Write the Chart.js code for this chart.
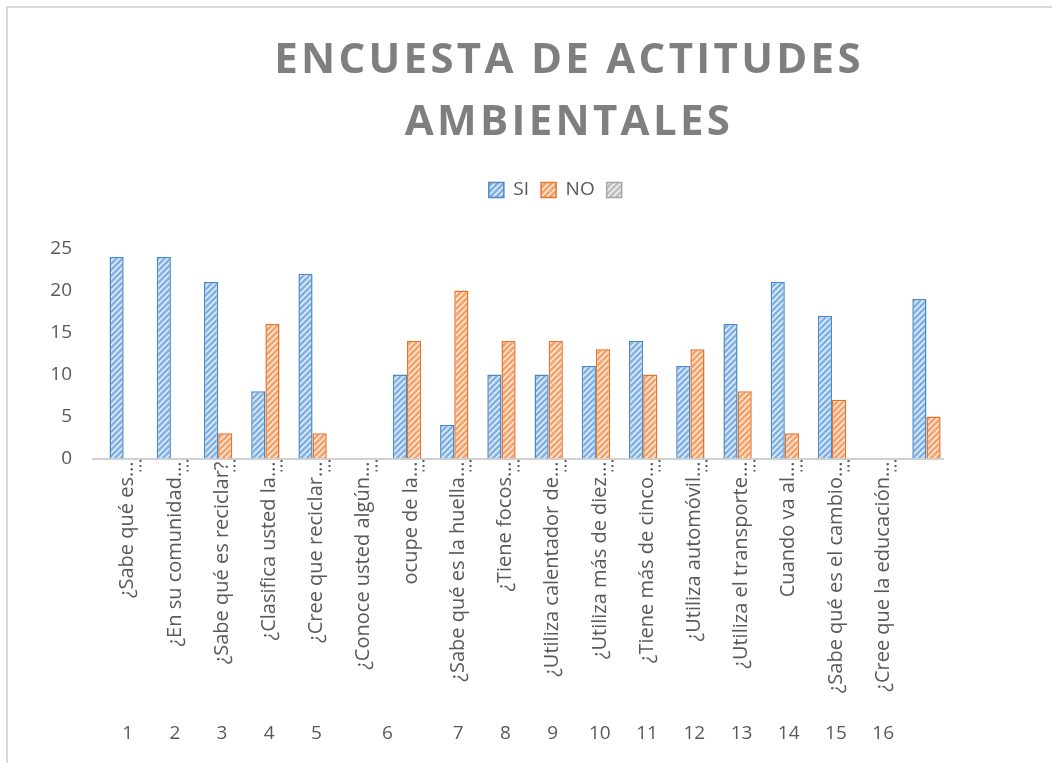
<!DOCTYPE html>
<html><head><meta charset="utf-8">
<script src="https://cdn.jsdelivr.net/npm/chart.js@4.4.1/dist/chart.umd.min.js"></script>
<style>
html,body{margin:0;padding:0;background:#fff;overflow:hidden;}
#wrap{position:relative;width:1052px;height:763px;overflow:hidden;}
#frame{position:absolute;left:6px;top:6px;width:1200px;height:900px;border-left:2px solid #d9d9d9;border-top:2px solid #d9d9d9;pointer-events:none;}
canvas{position:absolute;left:0;top:0;}
</style></head><body>
<div id="wrap"><canvas id="c" width="1052" height="763"></canvas><div id="frame"></div></div>
<script>
const titleLines = ['ENCUESTA DE ACTITUDES', 'AMBIENTALES'];
const seriesNames = ['SI', 'NO', ''];
const questionLabels = ['¿Sabe qué es…', '¿En su comunidad…', '¿Sabe qué es reciclar?', '¿Clasifica usted la…', '¿Cree que reciclar…', '¿Conoce usted algún…', 'ocupe de la…', '¿Sabe qué es la huella…', '¿Tiene focos…', '¿Utiliza calentador de…', '¿Utiliza más de diez…', '¿Tiene más de cinco…', '¿Utiliza automóvil…', '¿Utiliza el transporte…', 'Cuando va al…', '¿Sabe qué es el cambio…', '¿Cree que la educación…', ''];
const groupLabels = ['1', '2', '3', '4', '5', '6', '7', '8', '9', '10', '11', '12', '13', '14', '15', '16', ''];
const groupSizes = [1, 1, 1, 1, 1, 2, 1, 1, 1, 1, 1, 1, 1, 1, 1, 1, 1];
const siValues = [24, 24, 21, 8, 22, null, 10, 4, 10, 10, 11, 14, 11, 16, 21, 17, null, 19];
const noValues = [0, 0, 3, 16, 3, null, 14, 20, 14, 14, 13, 10, 13, 8, 3, 7, null, 5];
const thirdValues = [null, null, null, null, null, null, null, null, null, null, null, null, null, null, null, null, null, null];
const yMin = 0, yMax = 25, yStep = 5;

const groupCenters = [];
(function () { let s = 0; groupSizes.forEach(n => { groupCenters.push(s + (n - 1) / 2); s += n; }); })();

function hatch(bg, fg) {
  const c = document.createElement('canvas');
  c.width = 6; c.height = 6;
  const g = c.getContext('2d');
  g.fillStyle = bg; g.fillRect(0, 0, 6, 6);
  g.strokeStyle = fg; g.lineWidth = 1.8;
  g.beginPath();
  g.moveTo(-3, 3); g.lineTo(3, -3);
  g.moveTo(0, 6); g.lineTo(6, 0);
  g.moveTo(3, 9); g.lineTo(9, 3);
  g.stroke();
  return g.createPattern(c, 'repeat');
}

const ctx = document.getElementById('c').getContext('2d');
const blueFill = hatch('#7fb0e0', '#dceaf8');
const orangeFill = hatch('#f2a268', '#fde3d1');
const grayFill = hatch('#bdbdbd', '#eeeeee');

const letterSpacingTitle = {
  id: 'letterSpacingTitle',
  beforeDraw(chart) {
    const tb = chart.titleBlock;
    if (tb && !tb._lsWrapped) {
      const orig = tb.draw.bind(tb);
      tb.draw = function (a) { const c = chart.ctx; c.save(); c.letterSpacing = '3.3px'; c.translate(9, 0); orig(a); c.restore(); };
      tb._lsWrapped = true;
    }
  }
};

const FONT = 'Open Sans';
const TXT = '#595959';

new Chart(ctx, {
  type: 'bar',
  data: {
    labels: questionLabels,
    datasets: [
      { label: seriesNames[0], data: siValues, backgroundColor: blueFill, borderColor: '#4a88c8', borderWidth: 1.5, order: 1 },
      { label: seriesNames[1], data: noValues, backgroundColor: orangeFill, borderColor: '#e5732a', borderWidth: 1.5, order: 1 },
      { label: seriesNames[2], data: thirdValues, backgroundColor: grayFill, borderColor: '#a5a5a5', borderWidth: 1.5, order: 0 }
    ]
  },
  options: {
    responsive: false,
    animation: false,
    devicePixelRatio: 1,
    categoryPercentage: 0.9,
    barPercentage: 1,
    layout: { padding: { left: 45, right: -23, top: 0, bottom: 10 } },
    plugins: {
      title: {
        display: true, text: titleLines, color: '#7f7f7f',
        font: { family: FONT, size: 42, weight: 'bold', lineHeight: 1.47 },
        padding: { top: 30, bottom: 15 }
      },
      legend: {
        display: true, position: 'top',
        labels: {
          color: TXT, font: { family: FONT, size: 19 }, boxWidth: 15, boxHeight: 15, padding: 12,
          sort: (a, b) => a.datasetIndex - b.datasetIndex
        }
      },
      tooltip: { enabled: false }
    },
    scales: {
      x: {
        type: 'category', position: 'bottom', weight: 0, offset: true,
        grid: {
          display: true, drawOnChartArea: false, drawTicks: true, tickLength: 13, offset: true,
          tickColor: c => (c.type === 'tick' && c.index > 0) ? '#595959' : 'rgba(0,0,0,0)',
          tickBorderDash: [2, 3], tickWidth: 2
        },
        border: { display: true, color: '#d0d0d0', width: 2 },
        ticks: { autoSkip: false, minRotation: 90, maxRotation: 90, labelOffset: 11, padding: -10, color: TXT, font: { family: FONT, size: 20 } },
        afterFit: s => { s.height = 254.5; }
      },
      x2: {
        type: 'linear', position: 'bottom', weight: 1, min: -0.5, max: 17.5, offset: false,
        grid: { display: false, drawTicks: false, offset: false }, border: { display: false },
        afterBuildTicks: a => { a.ticks = groupCenters.map(v => ({ value: v })); },
        ticks: { autoSkip: false, maxRotation: 0, minRotation: 0, labelOffset: 11, padding: 9, color: TXT, font: { family: FONT, size: 19 }, callback: (v, i) => groupLabels[i] },
        afterFit: s => { s.height = 40; }
      },
      xTop: {
        type: 'linear', position: 'top', display: true, offset: false,
        grid: { display: false, drawTicks: false }, border: { display: false }, ticks: { display: false },
        afterFit: s => { s.height = 39; }
      },
      y: {
        min: yMin, max: yMax,
        ticks: { stepSize: yStep, padding: 21, color: TXT, font: { family: FONT, size: 19 } },
        grid: { display: false, drawTicks: false }, border: { display: false },
        afterFit: s => { s.width = 48; }
      },
      yR: {
        type: 'linear', position: 'right', display: true,
        grid: { display: false, drawTicks: false }, border: { display: false }, ticks: { display: false },
        afterFit: s => { s.width = 132; }
      }
    }
  },
  plugins: [letterSpacingTitle]
});
</script>
</body></html>
